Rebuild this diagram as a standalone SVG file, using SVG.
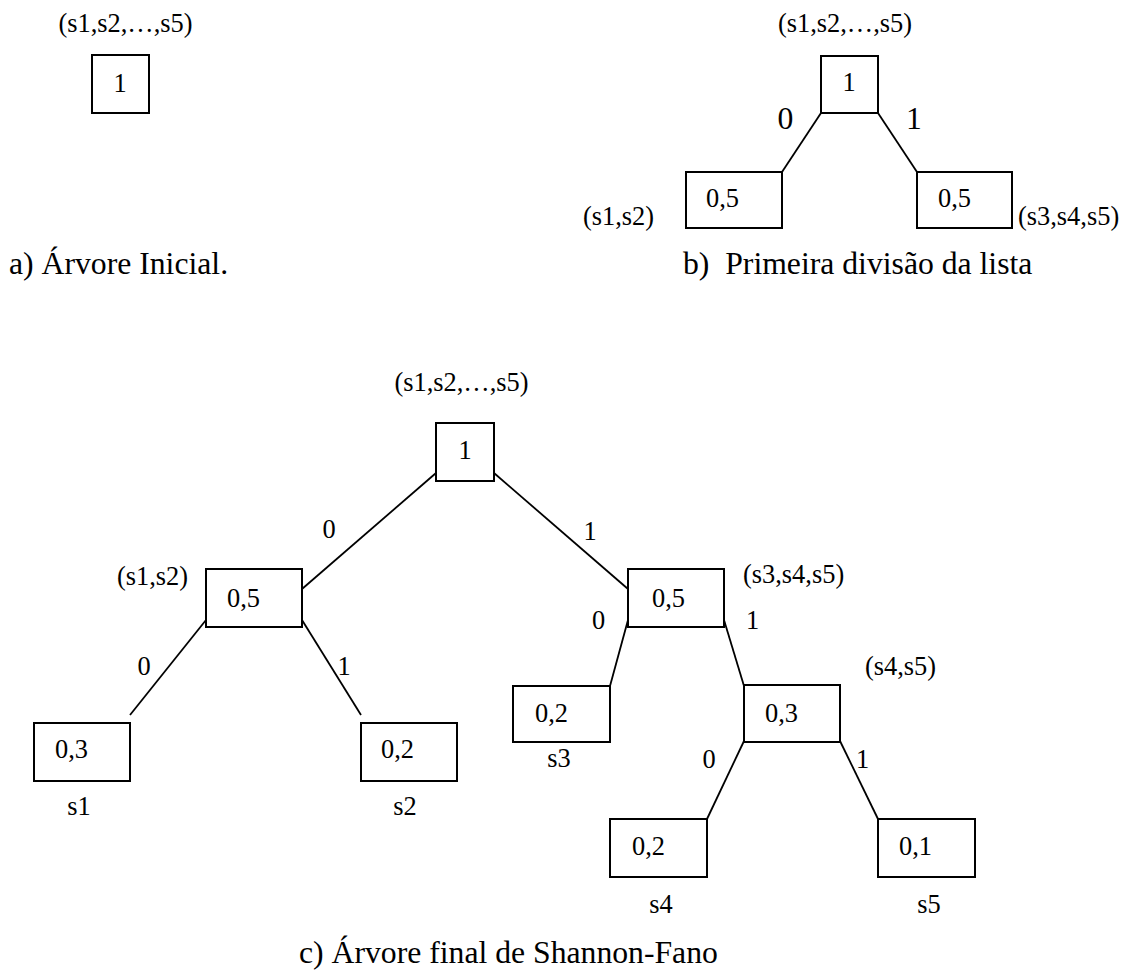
<svg xmlns="http://www.w3.org/2000/svg" width="1130" height="971" viewBox="0 0 1130 971">
  <style>
    text { font-family: 'Liberation Serif', 'Times New Roman', 'DejaVu Serif', serif; fill: #000; }
    .lbl { font-size: 26.4px; }
    .cap { font-size: 31.7px; }
    .big { font-size: 31.7px; }
    .mid { text-anchor: middle; }
    .box { fill: #fff; stroke: #000; stroke-width: 2; }
    .edge { fill: none; stroke: #000; stroke-width: 1.8; }
  </style>
  <rect width="1130" height="971" fill="#fff"/>

  <g font-family="Liberation Serif, Times New Roman, serif">
  <!-- (a) initial tree: a single root node -->
  <g id="a-root">
    <text class="lbl mid" x="125.5" y="32">(s1,s2,…,s5)</text>
    <rect class="box" x="92" y="55" width="57" height="58"/>
    <text class="lbl mid" x="120" y="92">1</text>
  </g>
  <text id="caption-a" class="cap" x="9" y="274">a) Árvore Inicial.</text>

  <!-- (b) first split of the symbol list -->
  <g id="b-connectors">
    <line class="edge" x1="821" y1="113" x2="782" y2="172"/>
    <line class="edge" x1="878" y1="113" x2="917" y2="172"/>
    <text class="big mid" x="785.5" y="129">0</text>
    <text class="big mid" x="914" y="129">1</text>
  </g>
  <g id="b-root">
    <text class="lbl mid" x="845" y="32">(s1,s2,…,s5)</text>
    <rect class="box" x="821" y="56" width="57" height="57"/>
    <text class="lbl mid" x="849" y="91">1</text>
  </g>
  <g id="b-left">
    <rect class="box" x="686" y="172" width="96" height="56"/>
    <text class="lbl" x="706" y="207">0,5</text>
    <text class="lbl" x="583" y="225">(s1,s2)</text>
  </g>
  <g id="b-right">
    <rect class="box" x="917" y="172" width="95" height="56"/>
    <text class="lbl" x="938" y="207">0,5</text>
    <text class="lbl" x="1018" y="225">(s3,s4,s5)</text>
  </g>
  <text id="caption-b" class="cap" x="683" y="274" xml:space="preserve" style="white-space:pre">b)  Primeira divisão da lista</text>

  <!-- (c) final Shannon-Fano tree -->
  <g id="c-connectors">
    <line class="edge" x1="436" y1="473" x2="302" y2="589"/>
    <line class="edge" x1="494" y1="473" x2="628" y2="589"/>
    <line class="edge" x1="206" y1="620" x2="130" y2="715"/>
    <line class="edge" x1="302" y1="620" x2="361" y2="715"/>
    <line class="edge" x1="628" y1="620" x2="610" y2="686"/>
    <line class="edge" x1="724" y1="620" x2="744" y2="686"/>
    <line class="edge" x1="744" y1="741" x2="707" y2="819"/>
    <line class="edge" x1="840" y1="741" x2="878" y2="819"/>
    <text class="lbl mid" x="329" y="538">0</text>
    <text class="lbl mid" x="590" y="540">1</text>
    <text class="lbl mid" x="144" y="675">0</text>
    <text class="lbl mid" x="344" y="675">1</text>
    <text class="lbl mid" x="598.5" y="629">0</text>
    <text class="lbl mid" x="752.5" y="629">1</text>
    <text class="lbl mid" x="709" y="768">0</text>
    <text class="lbl mid" x="862.5" y="768">1</text>
  </g>
  <g id="c-root">
    <text class="lbl mid" x="461.5" y="391">(s1,s2,…,s5)</text>
    <rect class="box" x="436" y="423" width="58" height="58"/>
    <text class="lbl mid" x="465" y="459">1</text>
  </g>
  <g id="c-s1s2">
    <rect class="box" x="206" y="569" width="96" height="58"/>
    <text class="lbl" x="227" y="607">0,5</text>
    <text class="lbl" x="117" y="585">(s1,s2)</text>
  </g>
  <g id="c-s1">
    <rect class="box" x="34" y="723" width="96" height="58"/>
    <text class="lbl" x="55" y="758">0,3</text>
    <text class="lbl mid" x="79" y="815">s1</text>
  </g>
  <g id="c-s2">
    <rect class="box" x="361" y="723" width="96" height="58"/>
    <text class="lbl" x="381" y="758">0,2</text>
    <text class="lbl mid" x="405" y="815">s2</text>
  </g>
  <g id="c-s3s4s5">
    <rect class="box" x="628" y="569" width="96" height="58"/>
    <text class="lbl" x="652" y="607">0,5</text>
    <text class="lbl" x="743" y="583">(s3,s4,s5)</text>
  </g>
  <g id="c-s3">
    <rect class="box" x="513" y="686" width="97" height="56"/>
    <text class="lbl" x="535" y="722">0,2</text>
    <text class="lbl mid" x="559" y="767">s3</text>
  </g>
  <g id="c-s4s5">
    <rect class="box" x="744" y="685" width="96" height="57"/>
    <text class="lbl" x="765" y="722">0,3</text>
    <text class="lbl" x="865" y="675">(s4,s5)</text>
  </g>
  <g id="c-s4">
    <rect class="box" x="610" y="819" width="97" height="58"/>
    <text class="lbl" x="632" y="855">0,2</text>
    <text class="lbl mid" x="661" y="913">s4</text>
  </g>
  <g id="c-s5">
    <rect class="box" x="878" y="819" width="97" height="58"/>
    <text class="lbl" x="899" y="855">0,1</text>
    <text class="lbl mid" x="929" y="913">s5</text>
  </g>
  <text id="caption-c" class="cap" x="299" y="963">c) Árvore final de Shannon-Fano</text>
  </g>
</svg>
